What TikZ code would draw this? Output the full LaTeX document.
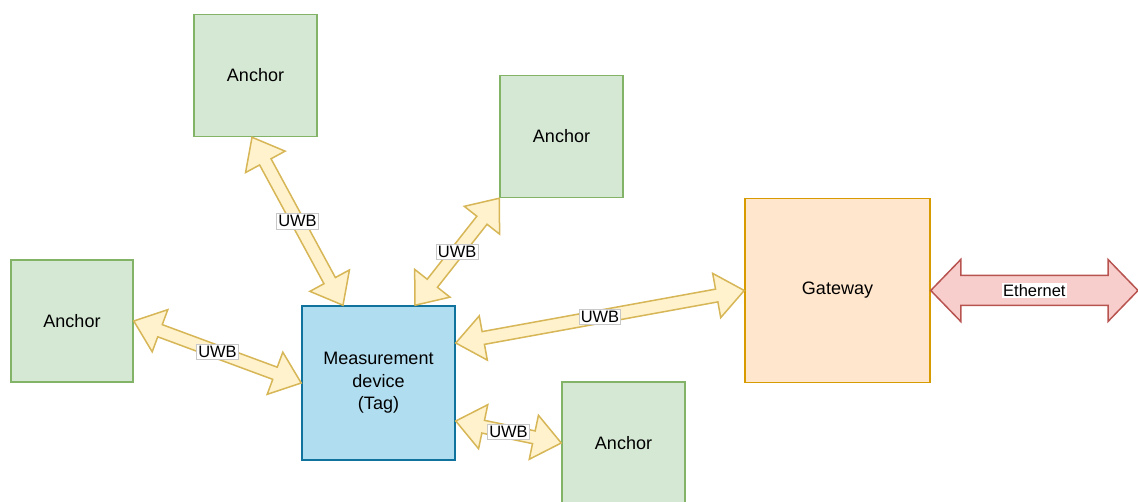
\documentclass[tikz,border=0pt]{standalone}
\usepackage{fontspec}
\setmainfont{Liberation Sans}
\usetikzlibrary{calc}

\definecolor{anchorfill}{HTML}{D5E8D4}
\definecolor{anchorline}{HTML}{82B366}
\definecolor{tagfill}{HTML}{B1DDF0}
\definecolor{tagline}{HTML}{10739E}
\definecolor{gwfill}{HTML}{FFE6CC}
\definecolor{gwline}{HTML}{D79B00}
\definecolor{uwbfill}{HTML}{FFF2CC}
\definecolor{uwbline}{HTML}{D6B656}
\definecolor{ethfill}{HTML}{F8CECC}
\definecolor{ethline}{HTML}{B85450}
\definecolor{lblline}{HTML}{C8C8C8}

% wide double-headed arrow between two points:
% #1 style, #2 start, #3 end, #4 half body width, #5 half head width, #6 head length
\newcommand\flexdbl[6]{%
  \coordinate (fx-p) at ($(#2)!#6!(#3)$);
  \coordinate (fx-q) at ($(#3)!#6!(#2)$);
  \draw[#1] (#2) -- ($(fx-p)!#5!90:(#3)$) -- ($(fx-p)!#4!90:(#3)$)
    -- ($(fx-q)!#4!-90:(#2)$) -- ($(fx-q)!#5!-90:(#2)$) -- (#3)
    -- ($(fx-q)!#5!90:(#2)$) -- ($(fx-q)!#4!90:(#2)$)
    -- ($(fx-p)!#4!-90:(#3)$) -- ($(fx-p)!#5!-90:(#3)$) -- cycle;
}

\begin{document}
\begin{tikzpicture}[x=1pt, y=-1pt,
  box/.style={draw, line width=1.5pt, font=\fontsize{18}{22.5}\selectfont, align=center, inner sep=0pt},
  anchorbox/.style={box, fill=anchorfill, draw=anchorline, minimum width=123pt, minimum height=122pt},
  tagbox/.style={box, fill=tagfill, draw=tagline, minimum width=153pt, minimum height=154pt},
  gwbox/.style={box, fill=gwfill, draw=gwline, minimum width=185pt, minimum height=184pt},
  uwbarrow/.style={fill=uwbfill, draw=uwbline, line width=1.5pt, line join=miter},
  etharrow/.style={fill=ethfill, draw=ethline, line width=1.5pt, line join=miter},
  uwblabel/.style={fill=white, draw=lblline, line width=0.75pt, inner xsep=1.5pt, inner ysep=2pt,
    font=\fontsize{16.5}{18}\selectfont},
  ethlabel/.style={fill=white, inner sep=1.5pt, font=\fontsize{16.5}{18}\selectfont}]

\useasboundingbox (0,0) rectangle (1138,502);

% devices
\node[anchorbox] (a1) at (255.5,75.5) {Anchor};
\node[anchorbox] (a2) at (561.5,136.5) {Anchor};
\node[anchorbox, minimum width=122pt] (a3) at (72,321) {Anchor};
\node[tagbox] (tag) at (378.5,383) {Measurement\\device\\(Tag)};
\node[anchorbox] (a4) at (623.5,443) {Anchor};
\node[gwbox] (gw) at (837.5,290.5) {Gateway};

% connector end points on the box borders
\coordinate (a1b) at ([xshift=-3.5pt]a1.south);
\coordinate (t1) at ([xshift=-35.5pt]tag.north);
\coordinate (t2) at ([xshift=36.5pt]tag.north);
\coordinate (t3) at ([yshift=40pt]tag.east);
\coordinate (t5) at ([yshift=-38pt]tag.east);
\coordinate (net) at (1138,290.5);

% UWB links
\flexdbl{uwbarrow}{a1b}{t1}{6.5pt}{22.5pt}{28pt}
\flexdbl{uwbarrow}{a2.south west}{t2}{6.5pt}{22.5pt}{28pt}
\flexdbl{uwbarrow}{gw.west}{t3}{6.5pt}{22.5pt}{28pt}
\flexdbl{uwbarrow}{a3.east}{tag.west}{6.5pt}{22.5pt}{28pt}
\flexdbl{uwbarrow}{t5}{a4.west}{6.5pt}{22.5pt}{28pt}

% Ethernet uplink
\flexdbl{etharrow}{gw.east}{net}{15pt}{31pt}{30pt}

% link labels
\path (a1b) -- (t1) node[uwblabel, pos=0.5] {UWB};
\path (a2.south west) -- (t2) node[uwblabel, pos=0.5] {UWB};
\path (gw.west) -- (t3) node[uwblabel, pos=0.5] {UWB};
\path (a3.east) -- (tag.west) node[uwblabel, pos=0.5] {UWB};
\path (t5) -- (a4.west) node[uwblabel, pos=0.5] {UWB};
\path (gw.east) -- (net) node[ethlabel, pos=0.5] {Ethernet};

\end{tikzpicture}
\end{document}
